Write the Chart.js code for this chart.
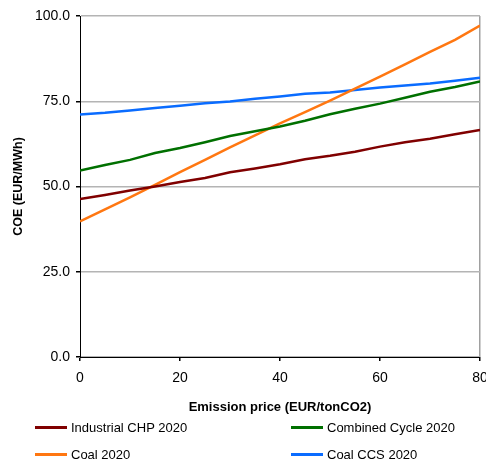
<!DOCTYPE html>
<html>
<head>
<meta charset="utf-8">
<script src="https://cdn.jsdelivr.net/npm/chart.js@4"></script>
<style>
  html, body { margin: 0; padding: 0; background: #fff; }
  #wrap { position: relative; width: 486px; height: 465px; font-family: 'Liberation Sans', Arial, sans-serif; }
  #lg { position: absolute; left: 0; top: 0; width: 486px; height: 465px; pointer-events: none; }
  .it { position: absolute; font-size: 13px; color: #000; line-height: 16px; white-space: nowrap; }
  .it i { position: absolute; left: -36px; top: 6px; width: 32px; height: 3px; }
</style>
</head>
<body>
<div id="wrap">
  <canvas id="c" width="486" height="465"></canvas>
  <div id="lg"></div>
</div>
<script>
// emission price (EUR/tonCO2)
const prices = [0, 5, 10, 15, 20, 25, 30, 35, 40, 45, 50, 55, 60, 65, 70, 75, 80];
// COE (EUR/MWh) per technology
const chp   = [46.3, 47.5, 48.8, 50.0, 51.3, 52.5, 54.2, 55.3, 56.5, 58.0, 59.0, 60.2, 61.7, 63.0, 64.0, 65.3, 66.6];
const cc    = [54.7, 56.3, 57.8, 59.8, 61.3, 63.0, 64.8, 66.2, 67.6, 69.3, 71.2, 72.8, 74.3, 76.0, 77.8, 79.2, 80.8];
const coal  = [39.8, 43.3, 46.8, 50.5, 54.2, 57.8, 61.5, 65.0, 68.5, 71.8, 75.2, 78.7, 82.2, 85.8, 89.5, 93.0, 97.2];
const ccs   = [71.1, 71.6, 72.3, 73.0, 73.7, 74.4, 74.9, 75.7, 76.4, 77.2, 77.6, 78.3, 79.0, 79.6, 80.2, 81.0, 81.9];
const yTicks = [0, 25, 50, 75, 100];

const series = [
  { label: 'Industrial CHP 2020', data: chp,  color: '#800000' },
  { label: 'Combined Cycle 2020', data: cc,   color: '#007000' },
  { label: 'Coal 2020',           data: coal, color: '#ff7711' },
  { label: 'Coal CCS 2020',       data: ccs,  color: '#0a6cff' }
];

const font = "'Liberation Sans', Arial, sans-serif";

new Chart(document.getElementById('c'), {
  type: 'line',
  data: {
    datasets: series.map(s => ({
      label: s.label,
      data: s.data.map((v, i) => ({ x: prices[i], y: v })),
      borderColor: s.color,
      backgroundColor: s.color,
      borderWidth: 2.5,
      pointRadius: 0,
      tension: 0,
      fill: false
    }))
  },
  options: {
    responsive: false,
    animation: false,
    events: [],
    layout: { padding: { top: 16, right: 6, bottom: 48, left: 0 } },
    plugins: { legend: { display: false }, tooltip: { enabled: false } },
    scales: {
      x: {
        type: 'linear', min: 0, max: 80,
        afterFit: s => { s.height = 60; s.paddingLeft = 0; s.paddingRight = 0; },
        ticks: { stepSize: 20, color: '#000', padding: 9, font: { family: font, size: 14 } },
        grid: {
          color: c => (c.tick && c.tick.value === 80) ? '#a0a0a0' : 'rgba(0,0,0,0)',
          tickColor: '#000', tickLength: 4, lineWidth: 1.5
        },
        border: { display: true, color: '#000', width: 1 },
        title: { display: true, text: 'Emission price (EUR/tonCO2)', color: '#000',
                 font: { family: font, size: 13, weight: 'bold' }, padding: { top: 10, bottom: 2 } }
      },
      y: {
        min: 0, max: 100,
        afterFit: s => { s.width = 80; s.paddingTop = 0; s.paddingBottom = 0; },
        afterBuildTicks: s => { s.ticks = yTicks.map(v => ({ value: v })); },
        ticks: { color: '#000', padding: 6, font: { family: font, size: 14 },
                 callback: v => v.toFixed(1) },
        grid: { color: '#b4b4b4', tickColor: '#000', tickLength: 4, lineWidth: 1.5 },
        border: { display: true, color: '#000', width: 1 },
        title: { display: true, text: 'COE (EUR/MWh)', color: '#000',
                 font: { family: font, size: 12.5, weight: 'bold' }, padding: { top: 11, bottom: 0 } }
      }
    }
  }
});

// legend in two columns below the axis title
const lg = document.getElementById('lg');
const pos = [[71, 420], [327, 420], [71, 447], [327, 447]];
series.forEach((s, i) => {
  const d = document.createElement('div');
  d.className = 'it';
  d.style.left = pos[i][0] + 'px';
  d.style.top = pos[i][1] + 'px';
  d.innerHTML = '<i style="background:' + s.color + '"></i>' + s.label;
  lg.appendChild(d);
});
</script>
</body>
</html>
